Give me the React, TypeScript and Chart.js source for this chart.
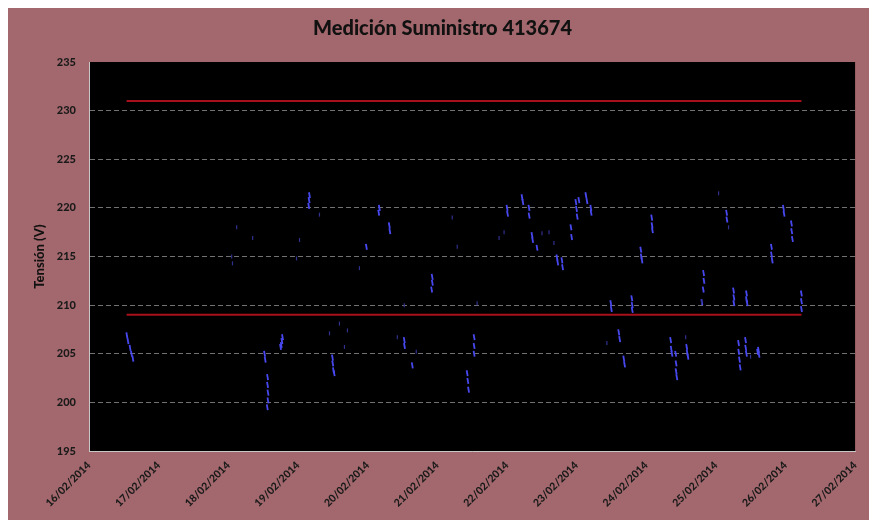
import { useEffect, useRef } from 'react';
import { Chart, registerables } from 'chart.js';

Chart.register(...registerables);

const chartTitle = 'Medición Suministro 413674';
const yAxisTitle = 'Tensión (V)';

// x ticks: days since 16/02/2014 00:00
const dateLabels = [
  '16/02/2014', '17/02/2014', '18/02/2014', '19/02/2014', '20/02/2014', '21/02/2014',
  '22/02/2014', '23/02/2014', '24/02/2014', '25/02/2014', '26/02/2014', '27/02/2014',
];

const yMin = 195;
const yMax = 235;
const yStep = 5;

// regulatory limits (V) and their time span (days since 16/02/2014)
const upperLimit = 231;
const lowerLimit = 209;
const limitStart = 0.54;
const limitEnd = 10.23;

// measured voltage, clearly visible points [day, volts]
const brightPoints: [number, number][] = [
  [0.544, 206.9], [0.56, 206.3], [0.59, 205.6], [0.61, 205.0], [0.63, 204.5],
  [2.779, 206.7], [2.77, 206.3], [2.76, 205.9], [2.75, 205.7],
  [2.521, 205.0], [2.53, 204.4],
  [2.564, 202.6], [2.564, 201.8], [2.57, 201.0], [2.57, 200.2], [2.56, 199.5],
  [3.166, 221.3], [3.16, 220.8], [3.155, 220.2],
  [4.169, 220.0], [4.16, 219.5],
  [4.312, 218.2], [4.32, 217.6],
  [3.983, 216.0],
  [4.928, 212.9], [4.93, 212.3], [4.92, 211.6],
  [3.496, 204.6], [3.50, 204.0], [3.51, 203.3], [3.52, 203.0],
  [4.527, 206.4], [4.53, 205.8],
  [4.642, 203.8],
  [5.530, 206.7], [5.53, 205.8], [5.53, 205.0],
  [5.430, 203.0], [5.44, 202.2], [5.45, 201.3],
  [6.003, 220.0], [6.01, 219.4],
  [6.218, 221.1], [6.23, 220.6],
  [6.318, 220.0], [6.32, 219.2],
  [6.361, 217.2], [6.37, 216.7],
  [6.433, 215.9],
  [6.719, 214.9], [6.73, 214.4], [6.791, 214.6], [6.80, 213.9],
  [6.920, 218.0], [6.93, 217.0],
  [6.991, 220.6], [7.00, 219.9], [7.01, 219.1], [7.034, 220.8],
  [7.135, 221.3], [7.15, 220.7], [7.206, 220.0], [7.21, 219.5],
  [8.080, 219.0], [8.085, 218.2], [8.09, 217.7],
  [7.923, 215.7], [7.93, 215.0], [7.94, 214.6],
  [7.493, 210.2], [7.50, 209.6],
  [7.794, 210.7], [7.80, 210.0], [7.80, 209.5],
  [7.607, 207.2], [7.62, 206.5],
  [7.679, 204.5], [7.69, 203.9],
  [8.352, 206.4], [8.36, 205.5], [8.37, 205.0],
  [8.424, 205.0], [8.43, 204.0], [8.43, 203.2], [8.44, 202.6],
  [9.971, 220.0], [9.98, 219.4],
  [10.086, 218.4], [10.09, 217.6], [10.10, 216.8],
  [9.799, 216.0], [9.80, 215.2], [9.81, 214.6],
  [8.825, 213.3], [8.83, 212.5], [8.82, 211.6], [8.80, 210.3],
  [9.255, 211.5], [9.26, 210.8], [9.26, 210.2],
  [9.441, 211.2], [9.44, 210.6], [9.45, 210.2],
  [10.229, 211.2], [10.23, 210.4], [10.23, 209.6],
  [8.582, 205.7], [8.59, 205.1], [8.60, 204.7],
  [9.327, 206.1], [9.33, 205.2], [9.34, 204.4], [9.35, 203.6],
  [9.427, 206.4], [9.43, 205.6], [9.44, 205.0],
  [9.613, 205.4], [9.62, 204.9], [9.60, 205.2],
  [9.155, 219.5], [9.16, 218.8],
];

// faint measured points [day, volts]
const faintPoints: [number, number][] = [
  [2.049, 215.0], [2.06, 214.3], [2.120, 218.0], [2.350, 216.9], [3.309, 219.3],
  [3.023, 216.7], [2.980, 214.8], [3.883, 213.8], [5.215, 219.0], [5.287, 216.0],
  [5.573, 210.2], [4.527, 210.0], [3.596, 208.1], [3.711, 207.4], [3.453, 207.1],
  [3.668, 205.7], [4.427, 206.7], [4.699, 205.2], [5.960, 217.5], [5.888, 216.9],
  [6.504, 217.4], [6.605, 217.5], [6.676, 216.4], [7.436, 206.1], [9.040, 221.5],
  [9.183, 218.0], [8.797, 210.3], [8.567, 206.7], [9.499, 204.7],
];

const blackArea = {
  id: 'blackArea',
  beforeDraw(chart: any) {
    const { ctx, chartArea } = chart;
    ctx.save();
    ctx.fillStyle = '#000000';
    ctx.fillRect(chartArea.left, chartArea.top, chartArea.width, chartArea.height);
    ctx.restore();
  },
};

export default function App() {
  const canvasRef = useRef<HTMLCanvasElement | null>(null);

  useEffect(() => {
    if (!canvasRef.current) return;
    const font = 'Lato, "Open Sans", sans-serif';
    const chart = new Chart(canvasRef.current, {
      type: 'scatter',
      data: {
        datasets: [
          {
            label: 'Límite superior',
            data: [{ x: limitStart, y: upperLimit }, { x: limitEnd, y: upperLimit }],
            showLine: true,
            borderColor: '#a8101c',
            borderWidth: 2,
            pointRadius: 0,
          },
          {
            label: 'Límite inferior',
            data: [{ x: limitStart, y: lowerLimit }, { x: limitEnd, y: lowerLimit }],
            showLine: true,
            borderColor: '#a8101c',
            borderWidth: 2,
            pointRadius: 0,
          },
          {
            label: 'Tensión',
            data: faintPoints.map(([x, y]) => ({ x, y })),
            pointStyle: 'line',
            rotation: 90,
            borderColor: '#30308f',
            borderWidth: 1.2,
            pointRadius: 2,
          },
          {
            label: 'Tensión',
            data: brightPoints.map(([x, y]) => ({ x, y })),
            pointStyle: 'line',
            rotation: 80,
            borderColor: '#4848f0',
            borderWidth: 1.8,
            pointRadius: 3,
          },
        ],
      },
      options: {
        animation: false,
        responsive: true,
        maintainAspectRatio: false,
        layout: { padding: { left: 20, right: 15, top: 0, bottom: 0 } },
        plugins: {
          legend: { display: false },
          tooltip: { enabled: false },
          title: {
            display: true,
            text: chartTitle,
            color: '#111111',
            font: { family: font, size: 20, weight: 900 },
            padding: { top: 9, bottom: 21 },
          },
        },
        scales: {
          x: {
            type: 'linear',
            min: 0,
            max: dateLabels.length - 1,
            afterFit: (scale: any) => { scale.height = 69; },
            ticks: {
              stepSize: 1,
              autoSkip: false,
              maxRotation: 45,
              minRotation: 45,
              padding: 8,
              color: '#1a1a1a',
              font: { family: font, size: 10.5, weight: 900 },
              callback: (v: any) => dateLabels[Number(v)] ?? '',
            },
            grid: { display: false, drawTicks: false },
            border: { display: true, color: '#c8c8c8', width: 1 },
          },
          y: {
            min: yMin,
            max: yMax,
            afterFit: (scale: any) => { scale.width = 61; },
            ticks: {
              stepSize: yStep,
              padding: 13,
              color: '#1a1a1a',
              font: { family: font, size: 11, weight: 900 },
            },
            title: {
              display: true,
              text: yAxisTitle,
              color: '#111111',
              font: { family: font, size: 13, weight: 900 },
              padding: { top: 4, bottom: 0 },
            },
            grid: {
              drawTicks: false,
              color: (c: any) =>
                c.tick && (c.tick.value === yMin || c.tick.value === yMax)
                  ? 'rgba(0,0,0,0)'
                  : 'rgba(190,190,190,0.6)',
              lineWidth: 1,
            },
            border: { display: true, color: '#c8c8c8', width: 1, dash: [5, 3] },
          },
        },
      },
      plugins: [blackArea],
    } as any);
    return () => chart.destroy();
  }, []);

  return (
    <div
      style={{
        position: 'relative',
        width: 864,
        height: 512,
        background: '#a3686d',
      }}
    >
      <canvas ref={canvasRef} />
    </div>
  );
}
